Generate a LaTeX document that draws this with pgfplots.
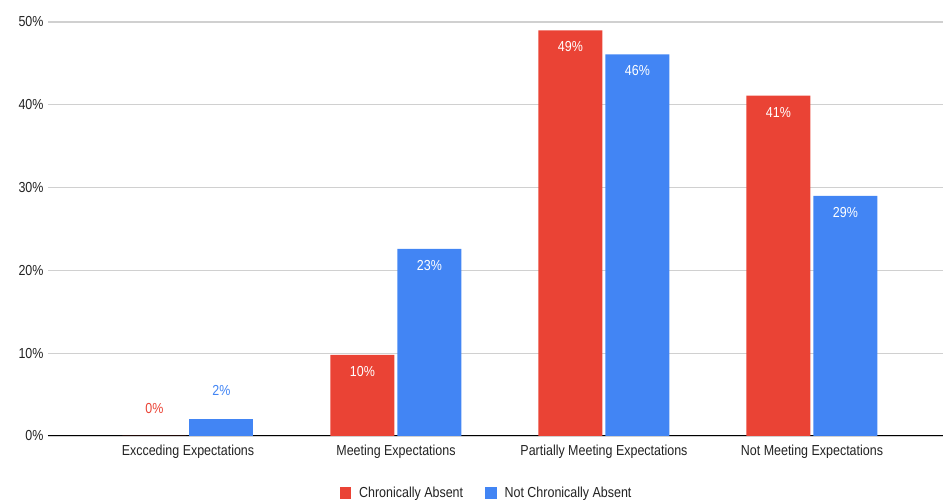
\documentclass[border=0pt]{standalone}
\usepackage{pgfplots}
\pgfplotsset{compat=1.18}
\usepackage{fontspec}
\setmainfont{Liberation Sans}[FakeStretch=0.86]
\definecolor{redA}{HTML}{EA4335}
\definecolor{blueA}{HTML}{4285F4}
\definecolor{gridc}{HTML}{D0D0D0}
\definecolor{txt}{HTML}{222222}
\begin{document}
\begin{tikzpicture}[font=\fontsize{14.5}{16}\selectfont]
\begin{axis}[
  name=ax, scale only axis, width=895pt, height=414pt,
  xmin=-0.673, xmax=3.63, ymin=0, ymax=50,
  ybar, bar width=64pt,
  axis line style={draw=none},
  ytick={0,10,20,30,40,50},
  yticklabels={0\%,10\%,20\%,30\%,40\%,50\%},
  ymajorgrids, grid style={gridc, line width=1.2pt},
  major tick length=0pt,
  xtick={0,1,2,3},
  xticklabels={Excceding Expectations, Meeting Expectations, Partially Meeting Expectations, Not Meeting Expectations},
  ticklabel style={text=txt},
  yticklabel style={xshift=-1pt},
  xticklabel style={yshift=-5pt},
  extra y ticks={0}, extra y tick labels={},
  extra y tick style={grid style={black, line width=1pt}},
  legend columns=2,
  legend style={at={(0.490,-0.138)}, anchor=center, draw=none, fill=none,
    font=\fontsize{14.5}{16}\selectfont, text=txt,
    /tikz/every odd column/.append style={column sep=6pt},
    /tikz/every even column/.append style={column sep=20pt}},
  legend image code/.code={\fill[#1] (0pt,-6pt) rectangle (11.5pt,6pt);},
  point meta=explicit symbolic,
  nodes near coords,
]
\addplot[fill=redA, draw=none, bar shift=-33.5pt,
  every node near coord/.append style={white, anchor=north, yshift=-8pt}]
  coordinates {(1,9.8) [10\%] (2,49.0) [49\%] (3,41.1) [41\%]};
\addlegendentry{Chronically Absent}
\addplot[fill=blueA, draw=none, bar shift=33.5pt,
  every node near coord/.append style={white, anchor=north, yshift=-8pt}]
  coordinates {(1,22.6) [23\%] (2,46.1) [46\%] (3,29.0) [29\%]};
\addlegendentry{Not Chronically Absent}
\addplot[fill=redA, draw=none, bar shift=-33.5pt, forget plot,
  every node near coord/.append style={redA, anchor=south, yshift=19pt}]
  coordinates {(0,0) [0\%]};
\addplot[fill=blueA, draw=none, bar shift=33.5pt, forget plot,
  every node near coord/.append style={blueA, anchor=south, yshift=19pt}]
  coordinates {(0,2.1) [2\%]};
\end{axis}
\pgfresetboundingbox
\useasboundingbox ([xshift=-48pt,yshift=-68pt]ax.south west) rectangle ([yshift=22pt]ax.north east);
\end{tikzpicture}
\end{document}
